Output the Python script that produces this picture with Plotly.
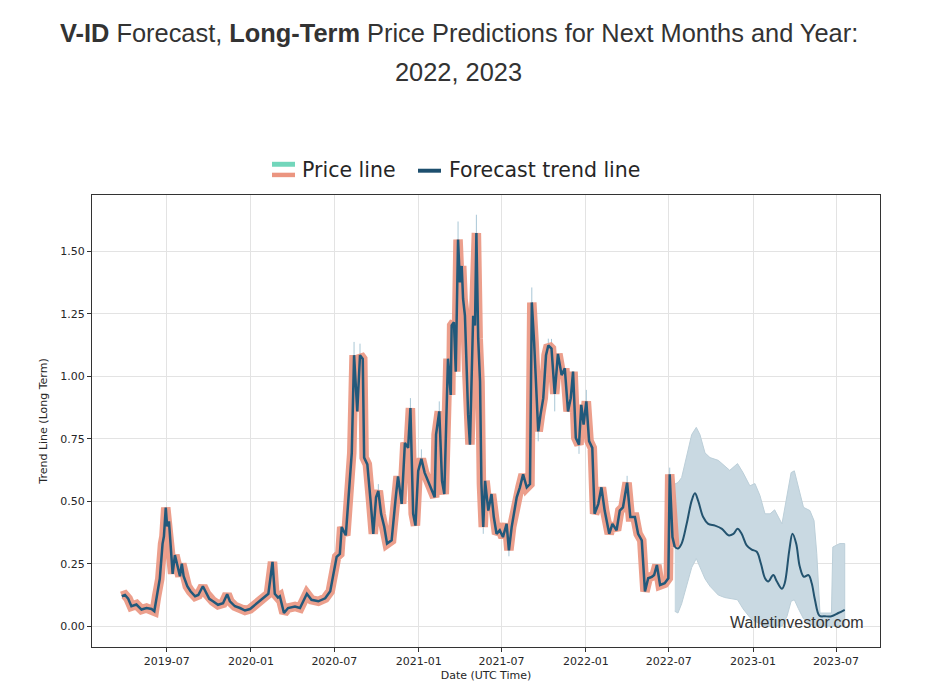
import plotly.graph_objects as go

# ---------------- data ----------------
price_dates = [
    "2019-03-25", "2019-04-01", "2019-04-08", "2019-04-15", "2019-04-26", "2019-05-07", "2019-05-18",
    "2019-05-29", "2019-06-04", "2019-06-09", "2019-06-16", "2019-06-22", "2019-06-25", "2019-06-29",
    "2019-07-02", "2019-07-06", "2019-07-10", "2019-07-14", "2019-07-19", "2019-07-24", "2019-07-30",
    "2019-08-03", "2019-08-07", "2019-08-15", "2019-08-22", "2019-09-01", "2019-09-08", "2019-09-18",
    "2019-09-26", "2019-10-02", "2019-10-10", "2019-10-21", "2019-11-01", "2019-11-10", "2019-11-16",
    "2019-11-27", "2019-12-08", "2019-12-19", "2019-12-30", "2020-01-10", "2020-01-21", "2020-02-01",
    "2020-02-08", "2020-02-17", "2020-02-22", "2020-02-29", "2020-03-04", "2020-03-13", "2020-03-22",
    "2020-04-06", "2020-04-17", "2020-05-02", "2020-05-12", "2020-05-27", "2020-06-11", "2020-06-22",
    "2020-06-29", "2020-07-06", "2020-07-13", "2020-07-17", "2020-07-26", "2020-08-02", "2020-08-08",
    "2020-08-13", "2020-08-20", "2020-08-26", "2020-09-01", "2020-09-04", "2020-09-11", "2020-09-18",
    "2020-09-24", "2020-09-30", "2020-10-05", "2020-10-11", "2020-10-18", "2020-10-24", "2020-11-03",
    "2020-11-12", "2020-11-17", "2020-11-25", "2020-12-02", "2020-12-09", "2020-12-14", "2020-12-20",
    "2020-12-25", "2020-12-31", "2021-01-07", "2021-01-14", "2021-01-25", "2021-02-05", "2021-02-08",
    "2021-02-15", "2021-02-21", "2021-02-26", "2021-03-06", "2021-03-12", "2021-03-14", "2021-03-19",
    "2021-03-23", "2021-03-28", "2021-04-01", "2021-04-05", "2021-04-08", "2021-04-12", "2021-04-16",
    "2021-04-19", "2021-04-23", "2021-04-27", "2021-04-30", "2021-05-04", "2021-05-07", "2021-05-11",
    "2021-05-15", "2021-05-18", "2021-05-22", "2021-05-26", "2021-06-02", "2021-06-09", "2021-06-14",
    "2021-06-20", "2021-06-27", "2021-07-04", "2021-07-12", "2021-07-17", "2021-07-23", "2021-08-03",
    "2021-08-10", "2021-08-17", "2021-08-25", "2021-09-01", "2021-09-05", "2021-09-10", "2021-09-14",
    "2021-09-19", "2021-09-24", "2021-09-30", "2021-10-06", "2021-10-11", "2021-10-18", "2021-10-25",
    "2021-11-01", "2021-11-09", "2021-11-16", "2021-11-23", "2021-11-29", "2021-12-04", "2021-12-10",
    "2021-12-17", "2021-12-22", "2021-12-27", "2022-01-02", "2022-01-08", "2022-01-15", "2022-01-20",
    "2022-01-28", "2022-02-04", "2022-02-11", "2022-02-21", "2022-02-28", "2022-03-09", "2022-03-16",
    "2022-03-23", "2022-04-01", "2022-04-08", "2022-04-18", "2022-04-25", "2022-05-03", "2022-05-10",
    "2022-05-17", "2022-05-25", "2022-05-30", "2022-06-05", "2022-06-12", "2022-06-22", "2022-06-30",
    "2022-07-03", "2022-07-09", "2022-07-14",
]
price_values = [
    0.120, 0.125, 0.110, 0.080, 0.087, 0.067, 0.073,
    0.069, 0.060, 0.120, 0.190, 0.330, 0.360, 0.475,
    0.400, 0.420, 0.300, 0.210, 0.285, 0.240, 0.200,
    0.250, 0.200, 0.160, 0.140, 0.120, 0.125, 0.160,
    0.130, 0.110, 0.100, 0.086, 0.092, 0.128, 0.100,
    0.080, 0.073, 0.063, 0.069, 0.086, 0.100, 0.120,
    0.130, 0.258, 0.130, 0.115, 0.120, 0.053, 0.073,
    0.079, 0.073, 0.130, 0.106, 0.100, 0.112, 0.140,
    0.205, 0.278, 0.290, 0.397, 0.364, 0.540, 0.694,
    1.085, 0.860, 1.085, 1.070, 0.675, 0.648, 0.503,
    0.370, 0.516, 0.542, 0.450, 0.397, 0.331, 0.344,
    0.516, 0.600, 0.490, 0.734, 0.714, 0.873, 0.450,
    0.403, 0.622, 0.670, 0.615, 0.569, 0.516, 0.767,
    0.860, 0.582, 0.529, 1.071, 0.926, 1.204, 1.217,
    1.019, 1.548, 1.376, 1.442, 1.310, 1.243, 1.019,
    0.847, 0.727, 1.019, 1.243, 1.204, 1.574, 1.151,
    0.979, 0.569, 0.397, 0.582, 0.463, 0.529, 0.437,
    0.370, 0.384, 0.357, 0.410, 0.304, 0.397, 0.516,
    0.556, 0.608, 0.556, 0.569, 1.296, 1.138, 0.992,
    0.780, 0.847, 0.913, 1.085, 1.124, 1.111, 0.930,
    1.090, 1.005, 1.032, 0.860, 0.913, 1.019, 0.754,
    0.727, 0.886, 0.807, 0.900, 0.741, 0.714, 0.450,
    0.489, 0.556, 0.463, 0.370, 0.410, 0.384, 0.463,
    0.476, 0.575, 0.437, 0.437, 0.370, 0.344, 0.139,
    0.192, 0.198, 0.205, 0.245, 0.165, 0.172, 0.192,
    0.608, 0.357, 0.317,
]

# thin high/low wicks visible around spikes
wick_dates = ["2020-08-13", "2020-08-26", "2020-10-05", "2020-12-14", "2021-01-07", "2021-02-15",
              "2021-03-19", "2021-03-28", "2021-05-07", "2021-05-22", "2021-07-17", "2021-09-05",
              "2021-09-19", "2021-10-06", "2021-10-11", "2021-10-18", "2021-10-25", "2021-11-09",
              "2021-12-17", "2022-01-02", "2022-04-01", "2022-07-03"]
wick_low = [1.085, 1.085, 0.542, 0.873, 0.670, 0.860,
            1.217, 1.548, 1.574, 0.370, 0.280, 1.296,
            0.740, 1.085, 1.124, 1.111, 0.860, 1.005,
            0.690, 0.900, 0.575, 0.608]
wick_high = [1.138, 1.131, 0.569, 0.913, 0.708, 0.900,
             1.250, 1.620, 1.647, 0.397, 0.304, 1.356,
             0.780, 1.130, 1.151, 1.150, 0.930, 1.060,
             0.727, 0.946, 0.602, 0.635]

forecast_dates = [
    "2022-07-14", "2022-07-21", "2022-07-29", "2022-08-09", "2022-08-20", "2022-08-27", "2022-09-03",
    "2022-09-14", "2022-09-25", "2022-10-10", "2022-10-25", "2022-11-08", "2022-11-19", "2022-11-28",
    "2022-12-07", "2022-12-18", "2022-12-29", "2023-01-09", "2023-01-18", "2023-01-27", "2023-02-03",
    "2023-02-14", "2023-02-22", "2023-03-05", "2023-03-11", "2023-03-21", "2023-03-28", "2023-04-05",
    "2023-04-13", "2023-04-22", "2023-05-02", "2023-05-09", "2023-05-16", "2023-05-26", "2023-06-07",
    "2023-06-21", "2023-07-06", "2023-07-20",
]
forecast_values = [
    0.317, 0.311, 0.331, 0.410, 0.503, 0.532, 0.503,
    0.437, 0.410, 0.403, 0.390, 0.364, 0.370, 0.390,
    0.370, 0.324, 0.307, 0.298, 0.251, 0.192, 0.179,
    0.205, 0.179, 0.150, 0.172, 0.304, 0.370, 0.331,
    0.238, 0.198, 0.205, 0.172, 0.106, 0.042, 0.040,
    0.040, 0.053, 0.066,
]

band_dates = [
    "2022-07-14", "2022-07-21", "2022-07-29", "2022-08-09", "2022-08-20", "2022-08-30", "2022-09-07",
    "2022-09-18", "2022-09-29", "2022-10-17", "2022-10-31", "2022-11-11", "2022-11-28", "2022-12-10",
    "2022-12-25", "2023-01-05", "2023-01-16", "2023-01-27", "2023-02-07", "2023-02-17", "2023-03-05",
    "2023-03-16", "2023-03-25", "2023-04-01", "2023-04-10", "2023-04-21", "2023-05-05", "2023-05-14",
    "2023-05-20", "2023-05-27", "2023-06-21", "2023-06-24", "2023-07-09", "2023-07-20",
]
band_upper = [
    0.569, 0.575, 0.595, 0.688, 0.767, 0.796, 0.767,
    0.694, 0.675, 0.664, 0.642, 0.624, 0.651, 0.615,
    0.562, 0.571, 0.523, 0.450, 0.450, 0.466, 0.410,
    0.529, 0.615, 0.622, 0.556, 0.476, 0.463, 0.423,
    0.291, 0.053, 0.053, 0.317, 0.331, 0.331,
]
band_lower = [
    0.060, 0.053, 0.090, 0.160, 0.235, 0.271, 0.240,
    0.190, 0.160, 0.125, 0.115, 0.110, 0.106, 0.070,
    0.035, 0.020, 0.010, 0.000, 0.000, 0.000, 0.000,
    0.040, 0.100, 0.106, 0.070, 0.030, 0.010, 0.000,
    0.000, 0.000, 0.000, 0.000, 0.000, 0.000,
]

x_tick_vals = ["2019-07-01", "2020-01-01", "2020-07-01", "2021-01-01", "2021-07-01",
               "2022-01-01", "2022-07-01", "2023-01-01", "2023-07-01"]
x_tick_text = ["2019-07", "2020-01", "2020-07", "2021-01", "2021-07",
               "2022-01", "2022-07", "2023-01", "2023-07"]
y_tick_vals = [0.0, 0.25, 0.5, 0.75, 1.0, 1.25, 1.5]
y_tick_text = ["0.00", "0.25", "0.50", "0.75", "1.00", "1.25", "1.50"]

# ---------------- colours ----------------
SALMON = "#eb9580"
TEAL = "#72d6bb"
DARK = "#22597b"
FC = "#23536f"
BAND = "#c9d9e2"
WICK = "#a9c7d6"

fig = go.Figure()

# forecast confidence band
fig.add_trace(go.Scatter(x=band_dates + band_dates[::-1], y=band_upper + band_lower[::-1],
                         mode="lines", fill="toself", fillcolor=BAND,
                         line=dict(color="#bccfd9", width=1), hoverinfo="skip", showlegend=False))

# wicks
wx, wy = [], []
for d, lo, hi in zip(wick_dates, wick_low, wick_high):
    wx += [d, d, None]
    wy += [lo, hi, None]
fig.add_trace(go.Scatter(x=wx, y=wy, mode="lines", line=dict(color=WICK, width=1),
                         hoverinfo="skip", showlegend=False))

# price line: thick salmon halo + dark line
fig.add_trace(go.Scatter(x=price_dates, y=price_values, mode="lines",
                         line=dict(color=SALMON, width=9.5), opacity=0.9, showlegend=False))
fig.add_trace(go.Scatter(x=price_dates, y=price_values, mode="lines",
                         line=dict(color=DARK, width=2.5), showlegend=False))

# forecast line
fig.add_trace(go.Scatter(x=forecast_dates, y=forecast_values, mode="lines", line_shape="spline",
                         line=dict(color=FC, width=2), showlegend=False))

axis_font = dict(family="DejaVu Sans", size=11, color="#262626")

# page body has an 8px margin: figure sized so the page is exactly 931x700
fig.update_layout(
    width=915, height=684,
    margin=dict(l=84, r=43, t=187, b=41),
    paper_bgcolor="white", plot_bgcolor="white",
    font=dict(family="DejaVu Sans", color="#262626"),
    showlegend=False,
    xaxis=dict(type="date", range=["2019-01-19", "2023-10-05"],
               tickvals=x_tick_vals, ticktext=x_tick_text, tickfont=axis_font,
               showgrid=True, gridcolor="#e3e3e3", gridwidth=1,
               ticks="outside", ticklen=4, tickcolor="#333", showline=True, linecolor="#333",
               linewidth=1, mirror=True, zeroline=False,
               title=dict(text="Date (UTC Time)", font=axis_font, standoff=4)),
    yaxis=dict(range=[-0.083, 1.726], tickvals=y_tick_vals, ticktext=y_tick_text, tickfont=axis_font,
               showgrid=True, gridcolor="#e3e3e3", gridwidth=1,
               ticks="outside", ticklen=4, tickcolor="#333", showline=True, linecolor="#333",
               linewidth=1, mirror=True, zeroline=False,
               title=dict(text="Trend Line (Long Term)", font=axis_font, standoff=10)),
)

title_font = dict(family="Liberation Sans, Arial", size=25.4, color="#333333")
fig.add_annotation(xref="paper", yref="paper", x=0.4654, y=1, yshift=162, xanchor="center", yanchor="middle",
                   text="<b>V-ID</b> Forecast, <b>Long-Term</b> Price Predictions for Next Months and Year:",
                   showarrow=False, font=title_font)
fig.add_annotation(xref="paper", yref="paper", x=0.4654, y=1, yshift=123, xanchor="center", yanchor="middle",
                   text="2022, 2023", showarrow=False, font=title_font)

# custom legend (positions given in page pixels, converted to plot-area fractions)
def px_x(px):
    return (px - 92) / 788.0

def px_y(py):
    return (651 - py) / 456.0

fig.add_shape(type="rect", xref="paper", yref="paper", x0=px_x(272), x1=px_x(295), y0=px_y(166.5), y1=px_y(161.5),
              line=dict(width=0), fillcolor=TEAL)
fig.add_shape(type="rect", xref="paper", yref="paper", x0=px_x(272), x1=px_x(295), y0=px_y(177), y1=px_y(172.5),
              line=dict(width=0), fillcolor=SALMON)
fig.add_shape(type="rect", xref="paper", yref="paper", x0=px_x(418), x1=px_x(441), y0=px_y(172.5), y1=px_y(168.5),
              line=dict(width=0), fillcolor="#1d4f6e")
leg_font = dict(family="DejaVu Sans", size=20.5, color="#262626")
fig.add_annotation(xref="paper", yref="paper", x=px_x(300), y=px_y(170), xanchor="left", yanchor="middle",
                   text="Price line", showarrow=False, font=leg_font)
fig.add_annotation(xref="paper", yref="paper", x=px_x(447), y=px_y(170), xanchor="left", yanchor="middle",
                   text="Forecast trend line", showarrow=False, font=leg_font)

# watermark
fig.add_annotation(xref="paper", yref="paper", x=px_x(866), y=px_y(626), xanchor="right", yanchor="middle",
                   text="Walletinvestor.com", showarrow=False,
                   font=dict(family="Liberation Sans, Arial", size=16, color="#333333"))

fig.write_html("out.html")
